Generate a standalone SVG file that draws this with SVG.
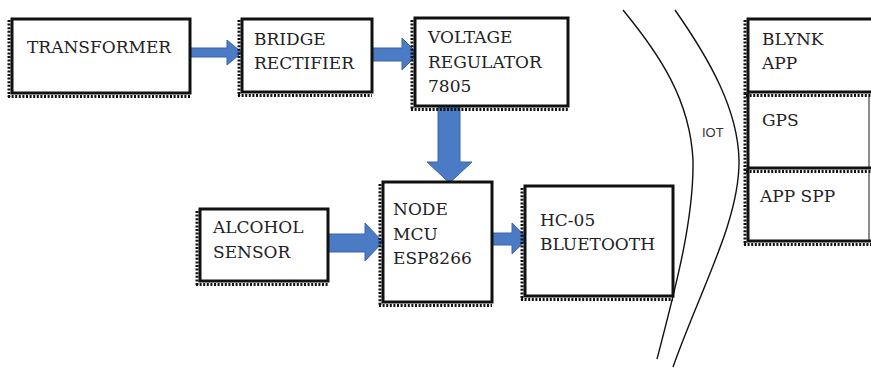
<svg xmlns="http://www.w3.org/2000/svg" width="871" height="368" viewBox="0 0 871 368">
<style>
.frame{fill:#fff;stroke:#111;stroke-width:3}
.edge{fill:none;stroke:#111;stroke-width:3}
.serr{fill:none;stroke:#111;stroke-width:3;stroke-dasharray:2 1.6}
.thin{fill:none;stroke:#666;stroke-width:1.5}
.lbl{font-family:"DejaVu Serif","Liberation Serif",serif;font-size:17px;fill:#222}
.iot{font-family:"Liberation Sans",Arial,sans-serif;font-size:13px;fill:#333}
.arr{fill:#4A7BC4;stroke:#3A66AA;stroke-width:1}
.curve{fill:none;stroke:#111;stroke-width:1.4}
</style>
<rect width="871" height="368" fill="#fff"/>

<g id="connectors">
  <path class="arr" d="M190,48 H227 V40 L242,52.5 L227,65 V57 H190 Z"/>
  <path class="arr" d="M372,48 H402 V38 L418,54 L402,70 V61 H372 Z"/>
  <path class="arr" d="M438,107 H460 V162 H472 L449.5,183 L427,162 H438 Z"/>
  <path class="arr" d="M328,234 H365 V223 L383,242 L365,261 V252 H328 Z"/>
  <path class="arr" d="M492,233 H512 V223 L528,238.5 L512,254 V245 H492 Z"/>
</g>

<g id="iot-boundary">
  <path class="curve" d="M623,10 C660,55 690,100 693,160 C694,220 675,290 657,359"/>
  <path class="curve" d="M675,10 C710,60 738,110 739,160 C740,220 700,290 673,367"/>
  <text class="iot" x="702" y="137">IOT</text>
</g>

<g id="transformer">
  <rect class="frame" x="12" y="19" width="178" height="74"/>
  <path class="serr" d="M9,20 V97 M8,96.5 H190"/>
  <text class="lbl" x="27" y="53">TRANSFORMER</text>
</g>

<g id="bridge-rectifier">
  <rect class="frame" x="242" y="19" width="130" height="73"/>
  <path class="serr" d="M239,20 V96 M238,95.5 H372"/>
  <text class="lbl" x="254" y="45">BRIDGE</text>
  <text class="lbl" x="254" y="69">RECTIFIER</text>
</g>

<g id="voltage-regulator">
  <rect class="frame" x="415" y="18" width="153" height="88"/>
  <path class="serr" d="M412,20 V110 M411,109.5 H568"/>
  <text class="lbl" x="428" y="43">VOLTAGE</text>
  <text class="lbl" x="428" y="68">REGULATOR</text>
  <text class="lbl" x="428" y="92">7805</text>
</g>

<g id="alcohol-sensor">
  <rect class="frame" x="200" y="209" width="128" height="72"/>
  <path class="serr" d="M197,211 V285 M196,284.5 H328"/>
  <text class="lbl" x="213" y="233">ALCOHOL</text>
  <text class="lbl" x="213" y="258">SENSOR</text>
</g>

<g id="node-mcu">
  <rect class="frame" x="383" y="182" width="109" height="120"/>
  <path class="serr" d="M380,184 V306 M379,305.5 H492"/>
  <text class="lbl" x="393" y="215">NODE</text>
  <text class="lbl" x="393" y="240">MCU</text>
  <text class="lbl" x="393" y="264">ESP8266</text>
</g>

<g id="hc05-bluetooth">
  <rect class="frame" x="525" y="186" width="148" height="110"/>
  <path class="serr" d="M522,188 V300 M521,299.5 H673"/>
  <text class="lbl" x="540" y="226">HC-05</text>
  <text class="lbl" x="540" y="250">BLUETOOTH</text>
</g>

<g id="blynk-app">
  <rect x="748" y="19" width="125" height="73" fill="#fff"/>
  <path class="edge" d="M873,19 H748 V92 H873"/>
  <path class="serr" d="M745,20 V93 M746,95.5 H871"/>
  <text class="lbl" x="762" y="45">BLYNK</text>
  <text class="lbl" x="762" y="69">APP</text>
</g>

<g id="gps">
  <path class="thin" d="M869,97 V168"/>
  <path class="edge" d="M748,92 V168 H871"/>
  <path class="serr" d="M745,93 V169 M746,171.5 H871"/>
  <text class="lbl" x="762" y="126">GPS</text>
</g>

<g id="app-spp">
  <path class="thin" d="M869,173 V241"/>
  <path class="edge" d="M748,168 V241 H871"/>
  <path class="serr" d="M745,169 V245 M744,244.5 H871"/>
  <text class="lbl" x="760" y="202">APP SPP</text>
</g>
</svg>
